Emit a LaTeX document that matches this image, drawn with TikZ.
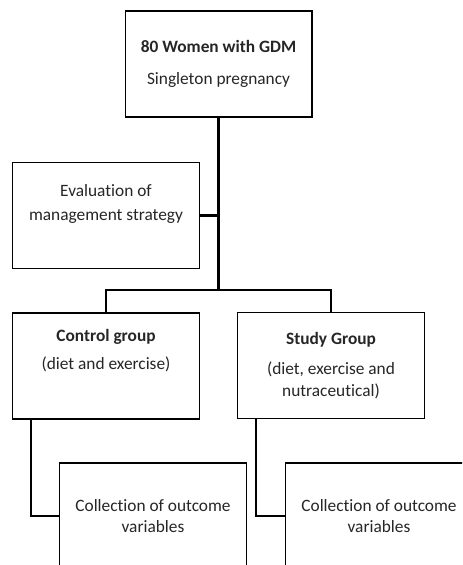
\documentclass[tikz,border=0pt]{standalone}
\usepackage{fontspec}
\setmainfont{Carlito}[Ligatures=NoCommon]
\usepackage{tikz}
\usetikzlibrary{calc}
\tikzset{
  flowbox/.style = {draw=black, line width=1pt, fill=white, align=center,
                    minimum width=140pt, minimum height=79.5pt, inner sep=3pt,
                    text=black!85, font=\fontsize{13}{15.75}\selectfont},
  link/.style    = {draw=black, line width=1.6pt},
}
\begin{document}
\begin{tikzpicture}[x=0.75pt,y=-0.75pt]
  \clip (0,0) rectangle (462,565);
  \node[flowbox] (gdm) at (218.5,64) {\textbf{80 Women with GDM}\\[8.25pt]Singleton pregnancy};
  \node[flowbox] (eval) at (106,215.5) {Evaluation of\\[2.25pt]management strategy\\[4.3pt]\mbox{}};
  \node[flowbox] (ctl) at (106,366) {\textbf{Control group}\\[5.25pt](diet and exercise)\\[9.75pt]\mbox{}};
  \node[flowbox] (stu) at (331,365.5) {\textbf{Study Group}\\[6.75pt](diet, exercise and\\[0.75pt]nutraceutical)};
  \node[flowbox] (colc) at (153,516) {Collection of outcome\\variables};
  \node[flowbox] (cols) at (379,516) {Collection of outcome\\variables};
  \coordinate (split) at (218.5,290);
  % tree links
  \draw[link] (gdm.south) -- (split);
  \draw[link] (eval.east) -- (eval.east -| gdm.south);
  \draw[link] (ctl.north) |- (split) -| (stu.north);
  \draw[link] ($(ctl.south west)+(19,0)$) |- (colc.west);
  \draw[link] ($(stu.south west)+(19,0)$) |- (cols.west);
\end{tikzpicture}
\end{document}
